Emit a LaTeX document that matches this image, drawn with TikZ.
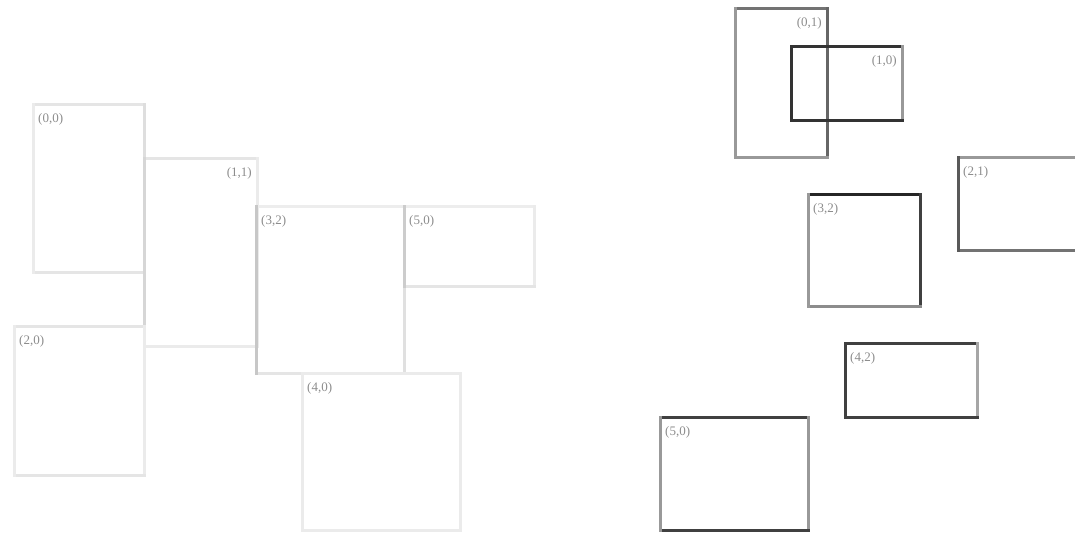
\documentclass[tikz,border=0pt]{standalone}
\usepackage{fontspec}
\setmainfont{Liberation Serif}
\usetikzlibrary{positioning}

% draw the four sides of a tile: node, top, right, bottom, left
\newcommand{\tileedges}[5]{%
  \draw[edge, draw=#2] (#1.north west) -- (#1.north east);
  \draw[edge, draw=#3] (#1.north east) -- (#1.south east);
  \draw[edge, draw=#4] (#1.south east) -- (#1.south west);
  \draw[edge, draw=#5] (#1.south west) -- (#1.north west);}

\begin{document}
\begin{tikzpicture}[x=1pt, y=-1pt,
    tile/.style={inner sep=0pt, outer sep=0pt, anchor=north west},
    edge/.style={line width=3pt, line cap=rect},
    tag/.style={font=\fontsize{13}{13}\selectfont, text=black!45, inner sep=1pt}]
  \path[use as bounding box] (0,0) rectangle (1075,533);
  \clip (0,0) rectangle (1075,533);

  % left packing
  \node[tile, minimum width=111pt, minimum height=168pt] (l00) at (33,104) {};
  \node[tile, minimum width=113pt, minimum height=188pt] (l11) at (144,158) {};
  \node[tile, minimum width=148pt, minimum height=167pt] (l32) at (256,206) {};
  \node[tile, minimum width=130pt, minimum height=80pt] (l50) at (404,206) {};
  \node[tile, minimum width=130pt, minimum height=149pt] (l20) at (14,326) {};
  \node[tile, minimum width=158pt, minimum height=157pt] (l40) at (302,373) {};
  \tileedges{l00}{black!10}{black!13}{black!10}{black!8}
  \tileedges{l11}{black!10}{black!8}{black!8}{black!16}
  \tileedges{l32}{black!7}{black!12}{black!10}{black!22}
  \tileedges{l50}{black!7}{black!8}{black!10}{black!20}
  \tileedges{l20}{black!10}{black!8}{black!10}{black!8}
  \tileedges{l40}{black!8}{black!8}{black!8}{black!8}
  \node[tag, anchor=north west] (t00) at ([shift={(4,8)}]l00.north west) {(0,0)};
  \node[tag, anchor=north east] (t11) at ([shift={(-4,8)}]l11.north east) {(1,1)};
  \node[tag, anchor=north west] (t32) at ([shift={(4,8)}]l32.north west) {(3,2)};
  \node[tag, anchor=north west] (t50) at ([shift={(4,8)}]l50.north west) {(5,0)};
  \node[tag, anchor=north west] (t20) at ([shift={(4,8)}]l20.north west) {(2,0)};
  \node[tag, anchor=north west] (t40) at ([shift={(4,8)}]l40.north west) {(4,0)};

  % right layout
  \node[tile, minimum width=92pt, minimum height=149pt] (r01) at (735,8) {};
  \node[tile, minimum width=111pt, minimum height=74pt] (r10) at (791,46) {};
  \node[tile, minimum width=112pt, minimum height=112pt] (r32) at (808,194) {};
  \node[tile, minimum width=140pt, minimum height=93pt] (r21) at (958,157) {};
  \node[tile, minimum width=132pt, minimum height=74pt] (r42) at (845,343) {};
  \node[tile, minimum width=148pt, minimum height=113pt] (r50) at (660,417) {};
  \tileedges{r01}{black!55}{black!60}{black!40}{black!40}
  \tileedges{r10}{black!80}{black!40}{black!80}{black!80}
  \tileedges{r32}{black!85}{black!75}{black!45}{black!40}
  \tileedges{r21}{black!40}{black!40}{black!55}{black!65}
  \tileedges{r42}{black!75}{black!35}{black!75}{black!75}
  \tileedges{r50}{black!75}{black!40}{black!75}{black!40}
  \node[tag, anchor=north east] (t01) at ([shift={(-4,8)}]r01.north east) {(0,1)};
  \node[tag, anchor=north east] (t10) at ([shift={(-4,8)}]r10.north east) {(1,0)};
  \node[tag, anchor=north west] (tr32) at ([shift={(4,8)}]r32.north west) {(3,2)};
  \node[tag, anchor=north west] (t21) at ([shift={(4,8)}]r21.north west) {(2,1)};
  \node[tag, anchor=north west] (t42) at ([shift={(4,8)}]r42.north west) {(4,2)};
  \node[tag, anchor=north west] (tr50) at ([shift={(4,8)}]r50.north west) {(5,0)};
\end{tikzpicture}
\end{document}
